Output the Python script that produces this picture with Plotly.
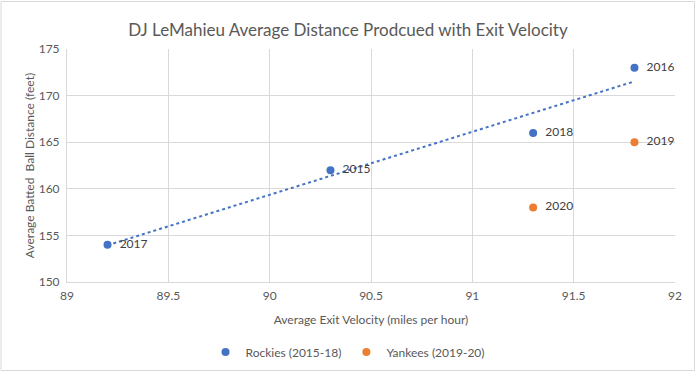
import numpy as np
import plotly.graph_objects as go

# Data
rockies_years = ["2015", "2016", "2017", "2018"]
rockies_ev = [90.3, 91.8, 89.2, 91.3]
rockies_dist = [162, 173, 154, 166]

yankees_years = ["2019", "2020"]
yankees_ev = [91.8, 91.3]
yankees_dist = [165, 158]

x_ticks = [89, 89.5, 90, 90.5, 91, 91.5, 92]
x_tick_text = ["89", "89.5", "90", "90.5", "91", "91.5", "92"]
y_ticks = [150, 155, 160, 165, 170, 175]

FONT = "Lato"
BLUE = "#4472C4"
ORANGE = "#ED7D31"
GRID = "#D9D9D9"
TXT = "#595959"

fig = go.Figure()

# Linear trendline for Rockies
slope, intercept = np.polyfit(rockies_ev, rockies_dist, 1)
tx = [min(rockies_ev), max(rockies_ev)]
ty = [slope * v + intercept for v in tx]
fig.add_trace(go.Scatter(x=tx, y=ty, mode="lines", showlegend=False,
                         line=dict(color=BLUE, width=2, dash="dot"), hoverinfo="skip"))

fig.add_trace(go.Scatter(x=rockies_ev, y=rockies_dist, mode="markers+text",
                         name="Rockies (2015-18)", text=rockies_years,
                         texttemplate="  %{text}",
                         textposition="middle right",
                         textfont=dict(family=FONT, size=12, color="#404040"),
                         marker=dict(color=BLUE, size=8)))
fig.add_trace(go.Scatter(x=yankees_ev, y=yankees_dist, mode="markers+text",
                         name="Yankees (2019-20)", text=yankees_years,
                         texttemplate="  %{text}",
                         textposition="middle right",
                         textfont=dict(family=FONT, size=12, color="#404040"),
                         marker=dict(color=ORANGE, size=8)))

fig.update_layout(
    width=696, height=372,
    paper_bgcolor="white", plot_bgcolor="white",
    margin=dict(l=67, r=21, t=49, b=90),
    font=dict(family=FONT, size=12, color=TXT),
    title=dict(text="DJ LeMahieu Average Distance Prodcued with Exit Velocity",
               x=0.5, xref="container", xanchor="center",
               y=1 - 30 / 372, yref="container", yanchor="middle",
               font=dict(family=FONT, size=17, color=TXT)),
    xaxis=dict(range=[89, 92], tickvals=x_ticks, ticktext=x_tick_text,
               showgrid=True, gridcolor=GRID, gridwidth=1,
               showline=True, linecolor=GRID, linewidth=1, zeroline=False,
               ticks="", ticklen=0, ticklabelstandoff=3,
               tickfont=dict(family=FONT, size=12, color=TXT),
               title=dict(text="Average Exit Velocity (miles per hour)", standoff=13,
                          font=dict(family=FONT, size=12, color=TXT))),
    yaxis=dict(range=[150, 175], tickvals=y_ticks,
               showgrid=True, gridcolor=GRID, gridwidth=1,
               showline=True, linecolor=GRID, linewidth=1, zeroline=False,
               ticks="", ticklen=0, ticklabelstandoff=4,
               tickfont=dict(family=FONT, size=12, color=TXT),
               title=dict(text="Average Batted  Ball Distance (feet)", standoff=1,
                          font=dict(family=FONT, size=12, color=TXT))),
    legend=dict(orientation="h", xref="container", yref="container",
                x=0.5, xanchor="center", y=20 / 372, yanchor="middle",
                font=dict(family=FONT, size=12, color=TXT)),
    shapes=[dict(type="rect", xref="paper", yref="paper", layer="below",
                 x0=-66/608, x1=1+19.5/608, y0=-88.5/233, y1=1+47.5/233,
                 line=dict(color="#D9D9D9", width=1))],
)

fig.write_html("out.html", config={"displayModeBar": False},
               post_script="document.body.style.margin='0';")
